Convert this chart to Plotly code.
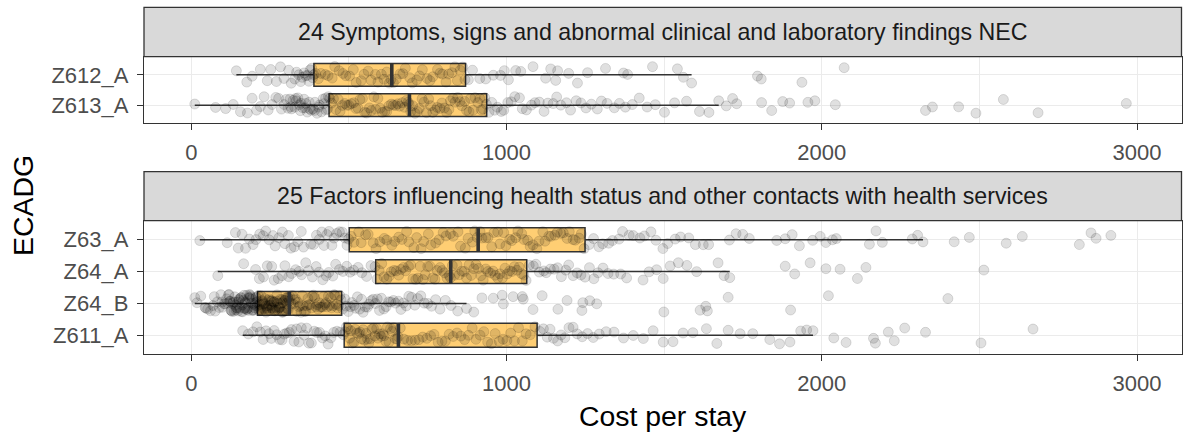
import math
import plotly.graph_objects as go

# Facet titles and the ECADG groups shown in each facet (top to bottom)
facet_titles = [
    "24 Symptoms, signs and abnormal clinical and laboratory findings NEC",
    "25 Factors influencing health status and other contacts with health services",
]
facet_groups = [
    ["Z612_A", "Z613_A"],
    ["Z63_A", "Z64_A", "Z64_B", "Z611_A"],
]

# Box statistics per group (cost per stay)
groups = ["Z612_A", "Z613_A", "Z63_A", "Z64_A", "Z64_B", "Z611_A"]
q1 = [389, 437, 501, 585, 210, 485]
median = [636, 692, 910, 823, 311, 657]
q3 = [870, 937, 1249, 1064, 477, 1097]
whisker_low = [143, 11, 27, 84, 11, 163]
whisker_high = [1587, 1673, 2321, 1708, 873, 1972]

# Individual stays (cost per stay)
cost_Z612_A = [
    143, 176, 193, 219, 241, 252, 270, 283, 294, 309, 317, 328, 334, 341, 347, 352, 358, 363, 369, 373, 377, 382, 385, 388,
    394, 403, 411, 425, 434, 447, 455, 469, 481, 490, 502, 514, 523, 539, 548, 561, 570, 584, 592, 603, 611, 620, 628, 633,
    641, 650, 662, 671, 679, 693, 701, 715, 724, 733, 748, 757, 766, 781, 789, 797, 808, 816, 827, 836, 844, 853, 861, 868,
    879, 892, 915, 934, 958, 981, 993, 1006, 1029, 1045, 1084, 1124, 1140, 1156, 1162, 1197, 1225, 1257, 1314, 1371, 1384,
    1463, 1542, 1561, 1587,
    1796, 1808, 1937, 2071,
]
cost_Z613_A = [
    11, 77, 109, 133, 156, 178, 193, 207, 219, 231, 244, 256, 268, 277, 286, 294, 301, 307, 313, 318, 323, 328, 333, 338,
    343, 348, 353, 358, 363, 368, 374, 380, 386, 392, 399, 406, 413, 420, 427, 435,
    316, 331, 346, 361, 376, 391, 404, 418, 426, 432,
    439, 445, 451, 459, 466, 472, 479, 487, 494, 500, 507, 515, 522, 529, 535, 543, 550, 556, 565, 571, 579, 585, 592, 599,
    606, 614, 620, 627, 635, 641, 648, 655, 661, 669, 676, 682, 688, 691,
    696, 702, 710, 717, 723, 732, 738, 746, 753, 759, 766, 774, 780, 789, 795, 803, 810, 817, 822, 830, 837, 845, 852, 858,
    867, 873, 881, 886, 894, 900, 909, 915, 920, 926, 931, 936,
    944, 953, 962, 971, 983, 991, 1004, 1015, 1026, 1041, 1050, 1063, 1079, 1090, 1104, 1119, 1131, 1148, 1159, 1172, 1190,
    1203, 1221, 1236, 1252, 1269, 1288, 1301, 1319, 1342, 1358, 1377, 1399, 1421, 1446, 1472, 1501, 1533, 1571, 1612, 1642,
    1673,
    1697, 1717, 1730, 1809, 1841, 1876, 1898, 1956, 1978, 2043, 2329, 2351, 2434, 2489, 2576, 2686, 2966,
]
cost_Z63_A = [
    27, 114, 140, 149, 161, 172, 184, 196, 205, 217, 228, 236, 247, 259, 266, 278, 289, 297, 308, 316, 327, 338, 349, 356,
    379, 388, 397, 406, 414, 421, 430, 437, 446, 453, 461, 470, 479, 487, 494, 499,
    507, 516, 531, 539, 553, 561, 577, 586, 598, 612, 620, 636, 645, 658, 668, 683, 690, 706, 715, 729, 737, 752, 760, 775,
    786, 799, 808, 822, 831, 846, 854, 869, 878, 892, 899, 907,
    916, 922, 934, 941, 953, 960, 972, 979, 991, 998, 1010, 1017, 1029, 1036, 1048, 1055, 1067, 1075, 1084, 1096, 1103,
    1115, 1122, 1134, 1141, 1153, 1161, 1172, 1180, 1192, 1199, 1211, 1218, 1230, 1237, 1246,
    1262, 1276, 1293, 1305, 1324, 1336, 1357, 1368, 1389, 1402, 1423, 1437, 1458, 1474, 1496, 1511, 1535, 1552, 1578, 1599,
    1624, 1641, 1707, 1728, 1749, 1770, 1857, 1884, 1906, 1929, 1971, 1995, 2013, 2034, 2046, 2151, 2172, 2192, 2287, 2304,
    2321,
    2420, 2468, 2585, 2636, 2817, 2854, 2870, 2917,
]
cost_Z64_A = [
    84, 166, 204, 216, 229, 241, 255, 263, 276, 288, 297, 309, 318, 331, 342, 350, 363, 372, 384, 396, 405, 417, 428, 436,
    449, 458, 470, 481, 493, 504, 515, 529, 541, 556, 570, 583,
    589, 596, 604, 611, 620, 627, 634, 643, 650, 658, 665, 673, 680, 689, 696, 703, 712, 719, 726, 735, 742, 750, 757, 766,
    773, 780, 789, 796, 803, 811, 818, 822,
    828, 835, 843, 850, 858, 866, 873, 881, 888, 896, 903, 911, 919, 926, 934, 941, 949, 957, 964, 972, 979, 987, 995, 1002,
    1010, 1017, 1025, 1033, 1040, 1048, 1055, 1062,
    1072, 1085, 1093, 1104, 1118, 1126, 1139, 1151, 1162, 1174, 1188, 1197, 1211, 1224, 1236, 1249, 1263, 1277, 1290, 1306,
    1322, 1340, 1362, 1381, 1433, 1452, 1476, 1497, 1519, 1545, 1572, 1603, 1671, 1690, 1708,
    1884, 1914, 1963, 2013, 2058, 2113, 2140, 2514,
]
cost_Z64_B = [
    11, 18, 30, 44, 52, 61, 69, 76, 83, 89, 94, 99, 104, 108, 112, 116, 120, 123, 127, 130, 133, 136, 139, 142, 145, 148,
    151, 154, 157, 159, 162, 165, 167, 170, 172, 175, 177, 180, 182, 185, 187, 190, 192, 195, 197, 200, 202, 205, 207, 209,
    122, 126, 131, 138, 143, 149, 152, 158, 163, 168, 171, 176, 181, 184, 189, 193, 198, 203, 206, 46, 73, 97, 118, 141,
    211, 214, 215, 218, 221, 222, 225, 228, 229, 232, 234, 237, 238, 241, 244, 245, 248, 250, 253, 255, 256, 259, 262, 263,
    266, 268, 271, 272, 275, 278, 279, 282, 284, 287, 288, 291, 293, 296, 297, 300, 302, 304, 305, 308, 310,
    213, 219, 226, 233, 240, 247, 252, 258, 265, 273, 281, 290, 299, 307,
    313, 316, 320, 323, 327, 330, 334, 338, 341, 345, 348, 352, 355, 359, 363, 366, 370, 373, 377, 381, 384, 388, 391, 395,
    399, 402, 406, 409, 413, 417, 420, 424, 427, 431, 435, 438, 442, 445, 449, 453, 456, 460, 464, 468, 471, 475,
    480, 487, 491, 498, 504, 509, 516, 521, 527, 534, 540, 545, 552, 559, 564, 571, 577, 584, 590, 597, 603, 611, 618, 626,
    633, 641, 648, 657, 665, 673, 682, 690, 699, 709, 718, 728, 739, 750, 762, 775, 789, 806, 824, 845, 873,
    896, 922, 958, 986, 990, 1021, 1050, 1053, 1084, 1113, 1163, 1192, 1239, 1242, 1264, 1286, 1499, 1614, 1632, 1637, 1703,
    1901, 2021, 2400,
]
cost_Z611_A = [
    163, 181, 196, 208, 219, 228, 237, 247, 254, 263, 271, 280, 288, 295, 303, 311, 318, 326, 334, 341, 349, 358, 366, 373,
    381, 390, 398, 407, 416, 425, 434, 443, 452, 462, 472, 482,
    488, 492, 497, 502, 506, 511, 516, 520, 525, 531, 535, 540, 545, 549, 554, 559, 563, 568, 573, 578, 583, 588, 592, 597,
    602, 607, 612, 617, 622, 627, 632, 637, 642, 647, 652, 656,
    663, 674, 686, 698, 710, 722, 734, 747, 759, 770, 783, 795, 806, 818, 831, 843, 855, 867, 879, 891, 903, 916, 928, 940,
    952, 964, 977, 989, 1001, 1013, 1025, 1038, 1050, 1062, 1075, 1090,
    1106, 1117, 1129, 1138, 1149, 1162, 1173, 1185, 1198, 1211, 1224, 1240, 1257, 1275, 1294, 1316, 1341, 1371, 1402, 1434,
    1465, 1497, 1528, 1560, 1591, 1634, 1667, 1703, 1741, 1781, 1835, 1866, 1899, 1933, 1952, 1972,
    2038, 2077, 2164, 2170, 2211, 2230, 2263, 2329, 2505, 2670,
]
costs = {
    "Z612_A": cost_Z612_A, "Z613_A": cost_Z613_A, "Z63_A": cost_Z63_A,
    "Z64_A": cost_Z64_A, "Z64_B": cost_Z64_B, "Z611_A": cost_Z611_A,
}

x_ticks = [0, 1000, 2000, 3000]

# ---- styling -------------------------------------------------------------
W, H = 1184, 439
FONT = "Liberation Sans, Arial, sans-serif"
BORDER = "#333333"
GRID = "#EBEBEB"
BOX_FILL = "rgba(255,165,0,0.55)"
PT_COLOR = "rgba(0,0,0,0.12)"
BOX_WIDTH = 0.75
JITTER = 0.28

# panel geometry in pixels (left, right) and (top, bottom) per facet
px_left, px_right = 144, 1181.5
panel_px = [(56.7, 123.3), (220.7, 354.3)]
strip_px = [(7.3, 56.7), (171.7, 220.7)]


def fx(px):
    return px / W


def fy(py):
    return 1 - py / H


def jitter_offsets(n, phase):
    # deterministic, irregular spread of points across the category band
    out = []
    for i in range(n):
        h = math.sin((i + 1) * 78.233 + phase * 12.9898) * 43758.5453
        out.append((h - math.floor(h) - 0.5) * 2 * JITTER)
    return out


fig = go.Figure()
layout_axes = {}

for f, members in enumerate(facet_groups):
    xa = "x" if f == 0 else "x2"
    ya = "y" if f == 0 else "y2"
    n = len(members)
    pos = {g: n - k for k, g in enumerate(members)}

    for g in members:
        i = groups.index(g)
        p = pos[g]
        fig.add_trace(go.Box(
            y=[p], q1=[q1[i]], median=[median[i]], q3=[q3[i]],
            lowerfence=[whisker_low[i]], upperfence=[whisker_high[i]],
            orientation="h", width=BOX_WIDTH, boxpoints=False,
            fillcolor=BOX_FILL, line=dict(color=BORDER, width=1.5),
            whiskerwidth=0, xaxis=xa, yaxis=ya, showlegend=False, hoverinfo="skip",
        ))

    for g in members:
        p = pos[g]
        vals = costs[g]
        offs = jitter_offsets(len(vals), groups.index(g) + 1)
        fig.add_trace(go.Scatter(
            x=vals, y=[p + o for o in offs], mode="markers",
            marker=dict(size=10, color=PT_COLOR, line=dict(color=PT_COLOR, width=1)),
            xaxis=xa, yaxis=ya, showlegend=False, hoverinfo="skip",
        ))

    # thicker median bar on each box
    for g in members:
        i = groups.index(g)
        p = pos[g]
        fig.add_trace(go.Scatter(
            x=[median[i], median[i]], y=[p - BOX_WIDTH / 2, p + BOX_WIDTH / 2],
            mode="lines", line=dict(color=BORDER, width=3.6),
            xaxis=xa, yaxis=ya, showlegend=False, hoverinfo="skip",
        ))

    top, bot = panel_px[f]
    key = "" if f == 0 else "2"
    layout_axes["xaxis" + key] = dict(
        domain=[fx(px_left), fx(px_right)], anchor=ya, range=[-150, 3141],
        tickmode="array", tickvals=x_ticks, ticktext=[str(t) for t in x_ticks],
        ticks="outside", ticklen=6, tickwidth=1.3, tickcolor=BORDER,
        tickfont=dict(family=FONT, size=22, color="#4D4D4D"), ticklabelstandoff=3,
        showgrid=True, gridcolor=GRID, gridwidth=1.3,
        minor=dict(tickmode="array", tickvals=[500, 1500, 2500], showgrid=True,
                   gridcolor=GRID, gridwidth=0.7, ticks=""),
        showline=True, linecolor=BORDER, linewidth=1.3, mirror=True, zeroline=False,
    )
    layout_axes["yaxis" + key] = dict(
        domain=[fy(bot), fy(top)], anchor=xa, range=[0.4, n + 0.6],
        tickmode="array", tickvals=[pos[g] for g in members], ticktext=members,
        ticks="outside", ticklen=6, tickwidth=1.3, tickcolor=BORDER,
        tickfont=dict(family=FONT, size=22, color="#4D4D4D"), ticklabelstandoff=4,
        showgrid=True, gridcolor=GRID, gridwidth=1.3,
        showline=True, linecolor=BORDER, linewidth=1.3, mirror=True, zeroline=False,
    )

shapes = []
annotations = []
for f, title in enumerate(facet_titles):
    s_top, s_bot = strip_px[f]
    shapes.append(dict(
        type="rect", xref="paper", yref="paper",
        x0=fx(px_left), x1=fx(px_right), y0=fy(s_bot), y1=fy(s_top),
        fillcolor="#D9D9D9", line=dict(color=BORDER, width=1.3), layer="above",
    ))
    annotations.append(dict(
        text=title, xref="paper", yref="paper",
        x=fx((px_left + px_right) / 2), y=fy((s_top + s_bot) / 2),
        xanchor="center", yanchor="middle", showarrow=False,
        font=dict(family=FONT, size=23.2, color="#1A1A1A"),
    ))

annotations.append(dict(
    text="Cost per stay", xref="paper", yref="paper",
    x=fx((px_left + px_right) / 2), y=fy(416), xanchor="center", yanchor="middle",
    showarrow=False, font=dict(family=FONT, size=28.4, color="#000000"),
))
annotations.append(dict(
    text="ECADG", xref="paper", yref="paper", textangle=-90,
    x=fx(22.5), y=fy(205.5), xanchor="center", yanchor="middle",
    showarrow=False, font=dict(family=FONT, size=28.4, color="#000000"),
))

fig.update_layout(
    width=W, height=H, margin=dict(l=0, r=0, t=0, b=0),
    paper_bgcolor="white", plot_bgcolor="white",
    shapes=shapes, annotations=annotations, boxmode="overlay",
    **layout_axes,
)

fig.write_html("out.html")
